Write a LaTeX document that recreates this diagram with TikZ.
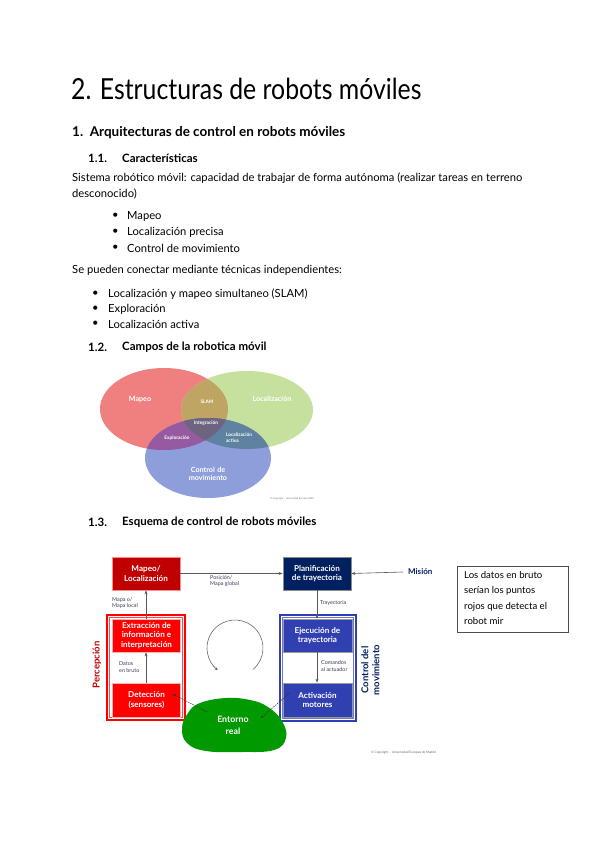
\documentclass[tikz,border=0pt]{standalone}
\usepackage{fontspec}
\setmainfont{Lato}
\newfontfamily\titlefont[FakeStretch=0.855]{Lato}
\usetikzlibrary{arrows.meta}
\definecolor{vred}{HTML}{F08080}
\definecolor{vgreen}{HTML}{C6E09E}
\definecolor{vblue}{HTML}{8E9EDA}
\definecolor{vslam}{HTML}{BEA564}
\definecolor{vexpl}{HTML}{965AA0}
\definecolor{vlocact}{HTML}{5F82A0}
\definecolor{vinteg}{HTML}{6E6482}
\definecolor{dred}{HTML}{C00000}
\definecolor{navy}{HTML}{002060}
\definecolor{royal}{HTML}{3040B0}
\definecolor{cloudgreen}{HTML}{009A00}
\definecolor{labgray}{HTML}{3A3F5A}
\begin{document}
\begin{tikzpicture}[x=1pt,y=-1pt,
  txt/.style={anchor=west,inner sep=0pt,font=\fontsize{11.2}{13}\selectfont},
  hone/.style={anchor=west,inner sep=0pt,font=\fontsize{13.5}{15}\selectfont\bfseries},
  htwo/.style={anchor=west,inner sep=0pt,font=\fontsize{11.5}{13}\selectfont\bfseries},
  vlab/.style={inner sep=0pt,align=center,text=white,font=\fontsize{7.2}{8.6}\selectfont\bfseries},
  vsmall/.style={inner sep=0pt,align=center,text=white,font=\fontsize{4.8}{5.8}\selectfont\bfseries},
  boxn/.style={inner sep=0pt,align=center,text=white,line width=0.7pt,font=\fontsize{8.1}{9.6}\selectfont\bfseries},
  tinylab/.style={anchor=west,inner sep=0pt,align=left,text=labgray,font=\fontsize{5.4}{6.4}\selectfont},
  arr/.style={draw=black!65,line width=0.6pt,-{Stealth[length=4pt,width=3pt]}},
  darr/.style={draw=black!80,line width=0.5pt,dashed,dash pattern=on 1.5pt off 1pt,-{Stealth[length=3pt,width=2.5pt]}}
]
\useasboundingbox (0,0) rectangle (599,848);
\fill[white] (0,0) rectangle (599,848);

% ---------- text ----------
\node[anchor=west,inner sep=0pt,font=\fontsize{29}{32}\titlefont] (title) at (71,89) {2. Estructuras de robots móviles};
\node[hone] (h1) at (72,133) {1.\ \ Arquitecturas de control en robots móviles};
\node[htwo] (h11n) at (88,158) {1.1.};
\node[htwo] (h11) at (122,158) {Características};
\node[txt] (p1) at (72,178) {Sistema robótico móvil: capacidad de trabajar de forma autónoma (realizar tareas en terreno};
\node[txt] (p2) at (72,194) {desconocido)};
\node[txt] (b1d) at (112,216) {\textbullet};
\node[txt] (b1) at (127,216) {Mapeo};
\node[txt] (b2d) at (112,232) {\textbullet};
\node[txt] (b2) at (127,232) {Localización precisa};
\node[txt] (b3d) at (112,248) {\textbullet};
\node[txt] (b3) at (127,248) {Control de movimiento};
\node[txt] (p3) at (72,270) {Se pueden conectar mediante técnicas independientes:};
\node[txt] (c1d) at (92,294) {\textbullet};
\node[txt] (c1) at (108,294) {Localización y mapeo simultaneo (SLAM)};
\node[txt] (c2d) at (92,309) {\textbullet};
\node[txt] (c2) at (108,309) {Exploración};
\node[txt] (c3d) at (92,324) {\textbullet};
\node[txt] (c3) at (108,324) {Localización activa};
\node[htwo] (h12n) at (88,347) {1.2.};
\node[htwo] (h12) at (122,347) {Campos de la robotica móvil};
\node[htwo] (h13n) at (88,522) {1.3.};
\node[htwo] (h13) at (122,522) {Esquema de control de robots móviles};

% ---------- Venn ----------
\def\RedE{(164,409) ellipse [x radius=64,y radius=41]}
\def\GreenE{(247,410) ellipse [x radius=66,y radius=39]}
\def\BlueE{(208,458) ellipse [x radius=63,y radius=40]}
\fill[vred] \RedE;
\fill[vgreen] \GreenE;
\fill[vblue] \BlueE;
\begin{scope}\clip \RedE; \fill[vslam] \GreenE; \end{scope}
\begin{scope}\clip \RedE; \fill[vexpl] \BlueE; \end{scope}
\begin{scope}\clip \GreenE; \fill[vlocact] \BlueE; \end{scope}
\begin{scope}\clip \RedE; \clip \GreenE; \fill[vinteg] \BlueE; \end{scope}
\node[vlab] (vmap) at (140,399) {Mapeo};
\node[vlab] (vloc) at (272,399) {Localización};
\node[vlab,text width=60pt] (vctl) at (208,474) {Control de\\movimiento};
\node[vsmall] (vslam) at (207,402) {SLAM};
\node[vsmall] (vint) at (206,423) {Integración};
\node[vsmall] (vexp) at (177,438) {Exploración};
\node[vsmall,align=left] (vla) at (239,438) {Localización\\activa};
\node[anchor=west,inner sep=0pt,text=black!55,font=\fontsize{2.4}{3}\selectfont] (vcopy) at (270,499) {© Copyright -- Universidad Europea 2020};

% ---------- control scheme ----------
% outer frames
\draw[red,line width=1.4pt] (107,615) rectangle (185,720);
\draw[red!70,line width=0.4pt] (109.5,617.5) rectangle (182.5,717.5);
\draw[royal,line width=1.4pt] (280,615) rectangle (356,721);
\draw[royal!70,line width=0.4pt] (282.5,617.5) rectangle (353.5,718.5);

\node[boxn,fill=dred,draw=red!45,minimum width=68pt,minimum height=33pt] (map) at (146,573.5) {Mapeo/\\Localización};
\node[boxn,fill=navy,draw=black!45,minimum width=68pt,minimum height=33pt] (plan) at (317,573.5) {Planificación\\de trayectoria};
\node[boxn,fill=red,draw=red!30,minimum width=68pt,minimum height=33pt] (ext) at (146.5,635.5) {Extracción de\\información e\\interpretación};
\node[boxn,fill=red,draw=red!30,minimum width=68pt,minimum height=34pt] (det) at (146.5,700) {Detección\\(sensores)};
\node[boxn,fill=royal,draw=black!40,minimum width=69pt,minimum height=33pt] (eje) at (317.5,635.5) {Ejecución de\\trayectoria};
\node[boxn,fill=royal,draw=black!40,minimum width=69pt,minimum height=34pt] (act) at (317.5,700) {Activación\\motores};

\coordinate (xl) at (146,0);
\coordinate (xr) at (317,0);
\draw[arr] (map.east) -- (plan.west);
\node[anchor=west,inner sep=0pt,font=\fontsize{8}{9}\selectfont\bfseries,text=navy] (mis) at (408,572) {Misión};
\draw[arr] ([xshift=-5pt]mis.west) -- (plan.east);
\draw[arr] (ext.north -| xl) -- (map.south -| xl);
\draw[arr] (det.north -| xl) -- (ext.south -| xl);
\draw[arr] (plan.south -| xr) -- (eje.north -| xr);
\draw[arr] (eje.south -| xr) -- (act.north -| xr);

\node[tinylab] (lpos) at (210,581) {Posición/\\Mapa global};
\node[tinylab] (lmapl) at (112,603) {Mapa o/\\Mapa local};
\node[tinylab] (ldat) at (119,667) {Datos\\en bruto};
\node[tinylab] (ltray) at (320,603) {Trayectoria};
\node[tinylab] (lcom) at (321,666) {Comandos\\al actuador};

\node[rotate=90,inner sep=0pt,font=\fontsize{9.5}{11}\selectfont\bfseries,text=dred] (perc) at (97,665) {Percepción};
\node[rotate=90,inner sep=0pt,align=center,font=\fontsize{9.5}{11}\selectfont\bfseries,text=navy] (ctrl) at (370.5,670) {Control del\\movimiento};

% cycle arrow
\draw[black!60,line width=0.6pt,-{Stealth[length=3pt,width=3pt]}] (235,648) ++(50:28) arc[start angle=50,end angle=-232,radius=28];

% cloud
\fill[cloudgreen] plot[smooth cycle,tension=0.7] coordinates {(200,703) (226,698) (250,700) (268,707) (282,721) (286,738) (274,750) (242,752) (206,751) (187,743) (182,728) (188,713)};
\node[inner sep=0pt,align=center,text=white,font=\fontsize{8.8}{12}\selectfont\bfseries] (env) at (233,725) {Entorno\\real};
\coordinate (envl) at (207,712);
\coordinate (envr) at (261,718);
\draw[darr] (envl) -- ([xshift=-8pt,yshift=6pt]det.east);
\draw[darr] ([xshift=-28pt,yshift=7pt]act.center) -- (envr);

\node[anchor=west,inner sep=0pt,text=black!60,font=\fontsize{3.2}{4}\selectfont] (dcopy) at (371,753) {© Copyright -- Universidad Europea de Madrid};

% note box
\node[draw=black!70,line width=0.6pt,anchor=north west,minimum width=111pt,minimum height=66pt,inner sep=0pt] (note) at (457,566) {};
\node[anchor=north west,inner sep=0pt,align=left,font=\fontsize{9.6}{15.5}\selectfont] (notetxt) at (464,571) {Los datos en bruto\\serían los puntos\\rojos que detecta el\\robot mir};
\end{tikzpicture}
\end{document}
